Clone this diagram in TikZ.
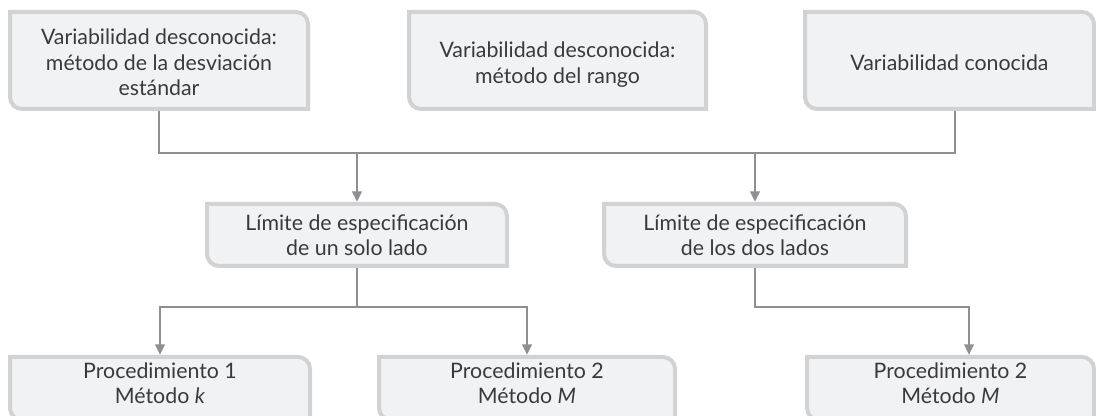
\documentclass[tikz,border=0pt]{standalone}
\usepackage{fontspec}
\setmainfont{Lato}
\usetikzlibrary{arrows.meta,backgrounds}
\definecolor{relleno}{HTML}{F1F2F4}
\definecolor{borde}{HTML}{D1D2D4}
\definecolor{conector}{HTML}{8E8F92}
\definecolor{texto}{HTML}{3A3A3C}
\begin{document}
\begin{tikzpicture}[x=0.75pt,y=-0.75pt,
    tarjeta/.style={inner sep=0pt, outer sep=0pt, align=center, text=texto, text depth=0pt, font=\fontsize{16}{19}\selectfont},
    arriba/.style={tarjeta, minimum height=72.75pt},
    medio/.style={tarjeta, minimum height=46.5pt, text height=30.6pt},
    abajo/.style={tarjeta, minimum height=47.25pt, text height=22.4pt},
    linea/.style={draw=conector, line width=2pt},
    flecha/.style={linea, -{Triangle[width=7pt,length=8pt]}, shorten >=1.5pt}]
  \useasboundingbox (0,0) rectangle (1096,416);
  % fila superior
  \node[arriba, minimum width=223.5pt, text height=52.6pt] (var1) at (159,60.5) {Variabilidad desconocida:\\método de la desviación\\estándar};
  \node[arriba, minimum width=222.75pt, text height=34.2pt] (var2) at (557.5,60.5) {Variabilidad desconocida:\\método del rango};
  \node[arriba, minimum width=216.75pt, text height=14.9pt] (var3) at (949.5,60.5) {Variabilidad conocida};
  % fila media
  \node[medio, minimum width=225pt] (lim1) at (357,235) {Límite de especificación\\de un solo lado};
  \node[medio, minimum width=226.5pt] (lim2) at (755,235) {Límite de especificación\\de los dos lados};
  % fila inferior
  \node[abajo, minimum width=225pt] (proc1) at (160,388.5) {Procedimiento 1\\Método \textit{k}};
  \node[abajo, minimum width=222pt] (proc2) at (527,388.5) {Procedimiento 2\\Método \textit{M}};
  \node[abajo, minimum width=215.25pt] (proc3) at (950.5,388.5) {Procedimiento 2\\Método \textit{M}};

  % cajas con dos esquinas redondeadas
  \begin{scope}[on background layer]
    \foreach \n in {var1,var2,var3,lim1,lim2,proc1,proc2,proc3}
      \filldraw[fill=relleno, draw=borde, line width=3pt]
        (\n.north west) -- ([xshift=-9pt]\n.north east)
        arc[start angle=90, end angle=0, radius=9pt] -- (\n.south east)
        -- ([xshift=9pt]\n.south west)
        arc[start angle=270, end angle=180, radius=9pt] -- cycle;
  \end{scope}

  % conectores
  \coordinate (bus) at (0,153);
  \coordinate (rama) at (0,307);
  \coordinate (v3) at ([xshift=4.1pt]var3.south);
  \coordinate (p3) at ([xshift=13.9pt]proc3.north);
  \draw[linea, shorten <=1.5pt, shorten >=1.5pt] (var1.south) |- (bus -| v3) -- (v3);
  \draw[flecha] (bus -| lim1.north) -- (lim1.north);
  \draw[flecha] (bus -| lim2.north) -- (lim2.north);
  \draw[linea, shorten <=1.5pt] (lim1.south) -- (lim1.south |- rama);
  \draw[flecha] (rama -| proc2.north) -| (proc1.north);
  \draw[flecha] (rama -| lim1.south) -| (proc2.north);
  \draw[flecha, shorten <=1.5pt] (lim2.south) |- (rama -| p3) -- (p3);
\end{tikzpicture}
\end{document}
